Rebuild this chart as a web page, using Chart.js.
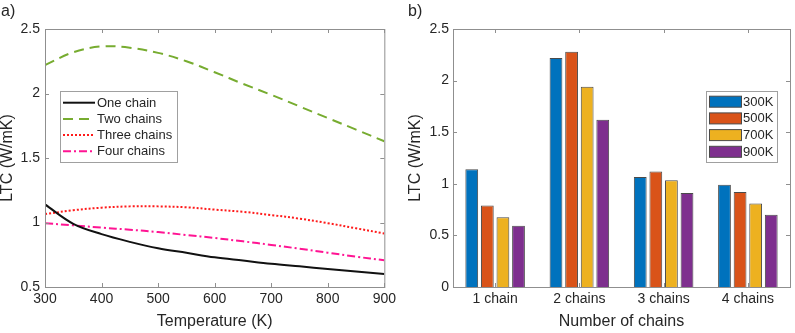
<!DOCTYPE html>
<html>
<head>
<meta charset="utf-8">
<title>LTC</title>
<script src="https://cdn.jsdelivr.net/npm/chart.js@4.4.0/dist/chart.umd.min.js"></script>
<style>
    html, body { margin: 0; padding: 0; background: #fff; }
    #wrap { position: relative; width: 795px; height: 333px; }
    .panel { position: absolute; top: 0; height: 333px; }
    #panelA { left: 0; width: 400px; }
    #panelB { left: 400px; width: 395px; }
</style>
</head>
<body>
<div id="wrap">
    <div class="panel" id="panelA"><canvas id="ltcTempChart"></canvas></div>
    <div class="panel" id="panelB"><canvas id="ltcChainsChart"></canvas></div>
</div>
<script>
        // a) LTC vs temperature
        const temperatures = [300, 350, 400, 450, 500, 550, 600, 650, 700, 750, 800, 850, 900];
        const oneChain    = [1.14, 0.99, 0.91, 0.85, 0.80, 0.765, 0.73, 0.705, 0.68, 0.66, 0.64, 0.62, 0.60];
        const twoChains   = [2.22, 2.32, 2.365, 2.355, 2.315, 2.25, 2.165, 2.075, 1.99, 1.90, 1.81, 1.72, 1.63];
        const threeChains = [1.065, 1.095, 1.115, 1.125, 1.125, 1.118, 1.10, 1.083, 1.058, 1.03, 0.995, 0.955, 0.915];
        const fourChains  = [0.994, 0.978, 0.96, 0.944, 0.926, 0.903, 0.88, 0.854, 0.826, 0.797, 0.766, 0.735, 0.707];

        // b) LTC per number of chains
        const chainLabels = ['1 chain', '2 chains', '3 chains', '4 chains'];
        const ltc300K = [1.14, 2.22, 1.066, 0.99];
        const ltc500K = [0.79, 2.28, 1.12, 0.92];
        const ltc700K = [0.675, 1.94, 1.034, 0.81];
        const ltc900K = [0.594, 1.62, 0.91, 0.70];

        const FONT = '"Liberation Sans", Arial, sans-serif';
        const TEXT_DARK = '#262626';
        const AXIS_GRAY = '#8f8f8f';

        const toPoints = arr => temperatures.map((t, i) => ({ x: t, y: arr[i] }));
        const plainNum = v => String(Math.round(v * 10) / 10);

        // box frame, inward ticks, panel letter and in-plot legend
        const frameAndLegend = {
            id: 'frameAndLegend',
            afterDraw(chart, args, opts) {
                const ctx = chart.ctx;
                const { left, top, right, bottom } = chart.chartArea;
                ctx.save();

                ctx.fillStyle = TEXT_DARK;
                ctx.font = '16px ' + FONT;
                ctx.textBaseline = 'alphabetic';
                ctx.textAlign = 'left';
                ctx.fillText(opts.letter, opts.letterX, 16);

                ctx.strokeStyle = AXIS_GRAY;
                ctx.lineWidth = 1;
                ctx.strokeRect(left + 0.5, top + 0.5, right - left, bottom - top);

                const xs = chart.scales.x, ys = chart.scales.y;
                ctx.beginPath();
                xs.ticks.forEach((t, i) => {
                    const px = Math.round(xs.getPixelForTick(i)) + 0.5;
                    ctx.moveTo(px, bottom); ctx.lineTo(px, bottom - 4);
                    ctx.moveTo(px, top); ctx.lineTo(px, top + 4);
                });
                ys.ticks.forEach((t, i) => {
                    const py = Math.round(ys.getPixelForTick(i)) + 0.5;
                    ctx.moveTo(left, py); ctx.lineTo(left + 4, py);
                    ctx.moveTo(right, py); ctx.lineTo(right - 4, py);
                });
                ctx.stroke();

                const lg = opts.legend;
                ctx.fillStyle = '#fff';
                ctx.fillRect(lg.x, lg.y, lg.w, lg.h);
                ctx.strokeStyle = '#a0a0a0';
                ctx.strokeRect(lg.x + 0.5, lg.y + 0.5, lg.w, lg.h);
                ctx.font = '13px ' + FONT;
                ctx.textBaseline = 'middle';
                chart.data.datasets.forEach((ds, i) => {
                    const ry = lg.y + lg.firstRow + i * lg.rowH;
                    if (lg.sample === 'line') {
                        ctx.save();
                        ctx.strokeStyle = ds.borderColor;
                        ctx.lineWidth = ds.borderWidth;
                        ctx.setLineDash(ds.borderDash || []);
                        ctx.beginPath();
                        ctx.moveTo(lg.x + lg.sampleX, ry);
                        ctx.lineTo(lg.x + lg.sampleX + lg.sampleW, ry);
                        ctx.stroke();
                        ctx.restore();
                    } else {
                        ctx.fillStyle = ds.backgroundColor;
                        ctx.fillRect(lg.x + lg.sampleX, ry - 5.5, lg.sampleW, 11);
                        ctx.strokeStyle = '#4a4a4a';
                        ctx.strokeRect(lg.x + lg.sampleX + 0.5, ry - 5.5, lg.sampleW, 11);
                    }
                    ctx.fillStyle = TEXT_DARK;
                    ctx.fillText(ds.label, lg.x + lg.textX, ry + 0.5);
                });
                ctx.restore();
            }
        };

        const tickFont = { family: FONT, size: 14 };
        const titleFont = { family: FONT, size: 16, lineHeight: 1 };

        // LTC vs temperature chart
        new Chart(document.getElementById('ltcTempChart'), {
            type: 'line',
            data: {
                datasets: [{
                    label: 'One chain',
                    data: toPoints(oneChain),
                    borderColor: '#111111',
                    borderWidth: 2
                }, {
                    label: 'Two chains',
                    data: toPoints(twoChains),
                    borderColor: '#77AC30',
                    borderWidth: 2,
                    borderDash: [10, 6]
                }, {
                    label: 'Three chains',
                    data: toPoints(threeChains),
                    borderColor: '#FF1A1A',
                    borderWidth: 2,
                    borderDash: [2, 2]
                }, {
                    label: 'Four chains',
                    data: toPoints(fourChains),
                    borderColor: '#FF1493',
                    borderWidth: 2,
                    borderDash: [8, 3, 2, 3]
                }]
            },
            options: {
                responsive: true,
                maintainAspectRatio: false,
                animation: false,
                layout: { padding: { top: 29, right: 15, left: 0, bottom: 0 } },
                elements: {
                    point: { radius: 0 },
                    line: { tension: 0.35, fill: false }
                },
                plugins: {
                    legend: { display: false },
                    tooltip: { enabled: false },
                    frameAndLegend: {
                        letter: 'a)', letterX: 1,
                        legend: { x: 60, y: 91, w: 117, h: 71, firstRow: 11.7, rowH: 16.2,
                                  sample: 'line', sampleX: 3, sampleW: 32, textX: 37 }
                    }
                },
                scales: {
                    x: {
                        type: 'linear', min: 300, max: 900,
                        ticks: { stepSize: 100, padding: 4, color: TEXT_DARK, font: tickFont, maxRotation: 0 },
                        grid: { display: false, drawTicks: false },
                        border: { display: false },
                        title: { display: true, text: 'Temperature (K)', color: TEXT_DARK, font: titleFont, padding: { top: 0, bottom: 3 } },
                        afterFit(s) { s.height = 46; }
                    },
                    y: {
                        min: 0.5, max: 2.5,
                        ticks: { stepSize: 0.5, padding: 5, color: TEXT_DARK, font: tickFont, callback: plainNum },
                        grid: { display: false, drawTicks: false },
                        border: { display: false },
                        title: { display: true, text: 'LTC (W/mK)', color: TEXT_DARK, font: titleFont, padding: { top: 0, bottom: 0 } },
                        afterFit(s) { s.width = 45; }
                    }
                }
            },
            plugins: [frameAndLegend]
        });

        // LTC per chain count chart
        new Chart(document.getElementById('ltcChainsChart'), {
            type: 'bar',
            data: {
                labels: chainLabels,
                datasets: [{
                    label: '300K', data: ltc300K, backgroundColor: '#0072BD'
                }, {
                    label: '500K', data: ltc500K, backgroundColor: '#D95319'
                }, {
                    label: '700K', data: ltc700K, backgroundColor: '#EDB120'
                }, {
                    label: '900K', data: ltc900K, backgroundColor: '#7E2F8E'
                }]
            },
            options: {
                responsive: true,
                maintainAspectRatio: false,
                animation: false,
                layout: { padding: { top: 29, right: 5, left: 0, bottom: 0 } },
                datasets: {
                    bar: {
                        borderColor: '#4a4a4a',
                        borderWidth: 1,
                        categoryPercentage: 0.74,
                        barPercentage: 0.82
                    }
                },
                plugins: {
                    legend: { display: false },
                    tooltip: { enabled: false },
                    frameAndLegend: {
                        letter: 'b)', letterX: 8,
                        legend: { x: 306, y: 91, w: 71, h: 71, firstRow: 10.7, rowH: 16.7,
                                  sample: 'box', sampleX: 3, sampleW: 32, textX: 37 }
                    }
                },
                scales: {
                    x: {
                        ticks: { padding: 4, color: TEXT_DARK, font: tickFont, maxRotation: 0 },
                        grid: { display: false, drawTicks: false },
                        border: { display: false },
                        title: { display: true, text: 'Number of chains', color: TEXT_DARK, font: titleFont, padding: { top: 0, bottom: 3 } },
                        afterFit(s) { s.height = 46; }
                    },
                    y: {
                        min: 0, max: 2.5,
                        ticks: { stepSize: 0.5, padding: 4, color: TEXT_DARK, font: tickFont, callback: plainNum },
                        grid: { display: false, drawTicks: false },
                        border: { display: false },
                        title: { display: true, text: 'LTC (W/mK)', color: TEXT_DARK, font: titleFont, padding: { top: 8, bottom: 0 } },
                        afterFit(s) { s.width = 53; }
                    }
                }
            },
            plugins: [frameAndLegend]
        });
</script>
</body>
</html>
